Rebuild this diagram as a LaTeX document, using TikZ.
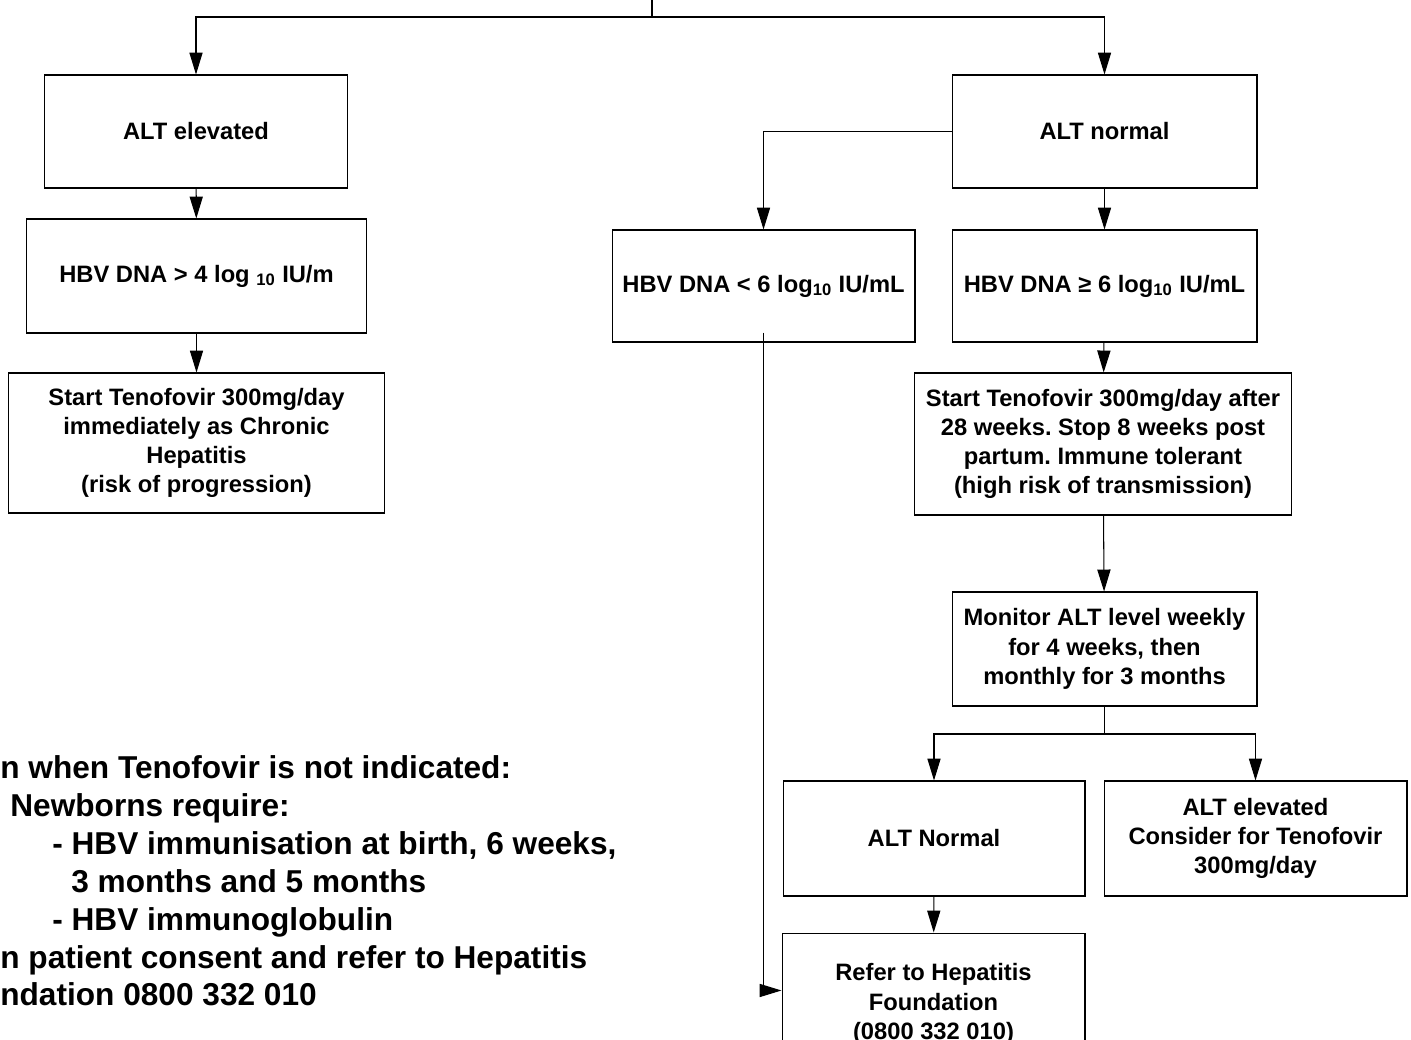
\documentclass[tikz,border=0pt]{standalone}
\usepackage{fontspec}
\setmainfont{Liberation Sans}
\usetikzlibrary{arrows.meta}
\frenchspacing

\tikzset{
  box/.style={draw, line width=0.6pt, align=center, inner sep=2pt,
    font=\bfseries\fontsize{13.5}{16.6}\selectfont},
  arr/.style={-{Triangle[length=12.5pt, width=7.5pt]}, line width=0.6pt},
  link/.style={line width=0.6pt}
}

\begin{document}
\begin{tikzpicture}[x=0.02cm, y=-0.02cm]
    \clip (0,0) rectangle (1411,1039);

    % left branch
    \node[box, minimum width=6.08cm, minimum height=2.26cm] (altEl) at (196,131.5) {ALT elevated};
    \node[box, minimum width=6.82cm, minimum height=2.28cm] (dnaLeft) at (196.5,276) {HBV DNA > 4 log \textsubscript{10} IU/m};
    \node[box, minimum width=7.54cm, minimum height=2.8cm] (startL) at (196.5,443)
        {Start Tenofovir 300mg/day\\immediately as Chronic\\Hepatitis\\(risk of progression)};

    % right branch
    \node[box, minimum width=6.1cm, minimum height=2.26cm] (altN) at (1104.5,131.5) {ALT normal};
    \node[box, minimum width=6.06cm, minimum height=2.24cm] (dnaLow) at (763.5,286) {HBV DNA < 6 log\textsubscript{10} IU/mL};
    \node[box, minimum width=6.1cm, minimum height=2.24cm] (dnaHigh) at (1104.5,286) {HBV DNA ≥ 6 log\textsubscript{10} IU/mL};
    \node[box, minimum width=7.56cm, minimum height=2.84cm] (startR) at (1103,444)
        {Start Tenofovir 300mg/day after\\28 weeks. Stop 8 weeks post\\partum. Immune tolerant\\(high risk of transmission)};
    \node[box, minimum width=6.1cm, minimum height=2.28cm] (monitor) at (1104.5,649)
        {Monitor ALT level weekly\\for 4 weeks, then\\monthly for 3 months};
    \node[box, minimum width=6.04cm, minimum height=2.3cm] (altNorm) at (934,838.5) {ALT Normal};
    \node[box, minimum width=6.06cm, minimum height=2.3cm] (altUp) at (1255.5,838.5)
        {ALT elevated\\Consider for Tenofovir\\300mg/day};
    \node[box, minimum width=6.06cm, minimum height=2.84cm] (refer) at (933.5,1004)
        {Refer to Hepatitis\\Foundation\\(0800 332 010)};

    % note
    \node[anchor=north west, align=left, inner sep=0pt,
          font=\bfseries\fontsize{18}{21.6}\selectfont] (note) at (0,755)
        {n when Tenofovir is not indicated:\\
         \hspace{0.2cm}Newborns require:\\
         \hspace{1.04cm}- HBV immunisation at birth, 6 weeks,\\
         \hspace{1.42cm}3 months and 5 months\\
         \hspace{1.04cm}- HBV immunoglobulin\\
         n patient consent and refer to Hepatitis\\
         ndation 0800 332 010};

    % connectors
    \coordinate (top) at (652,0);
    \coordinate (split) at (652,17);
    \coordinate (fork) at (1104.5,734);

    \draw[link] (top) -- (split);
    \draw[arr] (split) -| (altEl.north);
    \draw[arr] (split) -| (altN.north);
    \draw[arr] (altEl) -- (dnaLeft);
    \draw[arr] (dnaLeft) -- (startL);
    \draw[arr] (altN.west) -| (dnaLow.north);
    \draw[arr] (altN) -- (dnaHigh);
    \draw[arr] (dnaHigh) -- (startR);
    \draw[arr] (startR) -- (monitor);
    \draw[link] (monitor) -- (fork);
    \draw[arr] (fork) -| (altNorm.north);
    \draw[arr] (fork) -| (altUp.north);
    \draw[arr] (altNorm) -- (refer);
    \draw[arr] ([yshift=0.2cm]dnaLow.south) |- ([yshift=-1.16cm]refer.north west);
\end{tikzpicture}
\end{document}
